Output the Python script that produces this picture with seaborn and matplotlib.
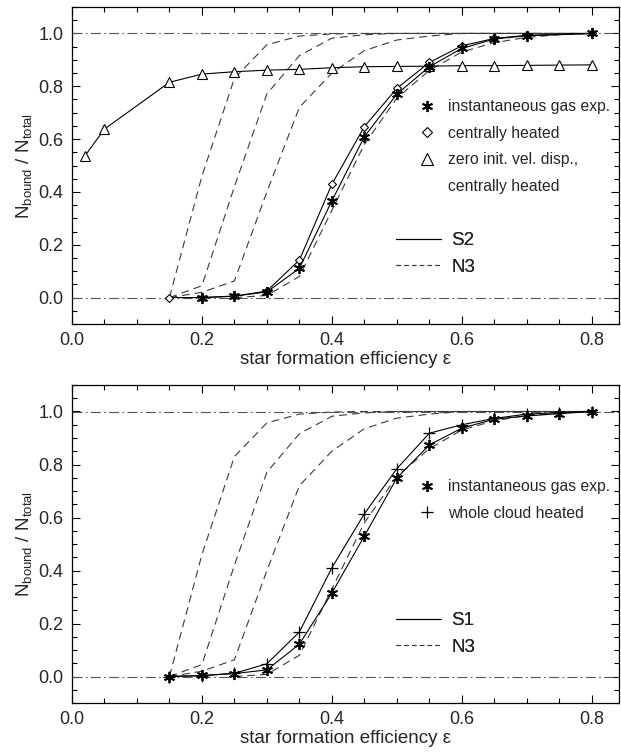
import numpy as np
import pandas as pd
import matplotlib
matplotlib.use("Agg")
import matplotlib.pyplot as plt
import seaborn as sns
from matplotlib.lines import Line2D
from matplotlib.ticker import MultipleLocator

# ---------------- data ----------------
# N3 reference curves (dashed), identical in both panels
n3_a_x = [0.15, 0.2, 0.25, 0.3, 0.35, 0.4, 0.45, 0.5, 0.6, 0.7, 0.8]
n3_a_y = [0.0, 0.46, 0.83, 0.957, 0.99, 0.998, 1.0, 1.0, 1.0, 1.0, 1.0]
n3_b_x = [0.15, 0.2, 0.25, 0.3, 0.35, 0.4, 0.45, 0.5, 0.6, 0.7, 0.8]
n3_b_y = [0.0, 0.045, 0.42, 0.771, 0.916, 0.982, 0.995, 1.0, 1.0, 1.0, 1.0]
n3_c_x = [0.15, 0.2, 0.25, 0.3, 0.35, 0.4, 0.45, 0.5, 0.55, 0.6, 0.7, 0.8]
n3_c_y = [0.0, 0.02, 0.063, 0.40, 0.72, 0.85, 0.935, 0.975, 0.99, 1.0, 1.0, 1.0]
n3_d_x = [0.25, 0.3, 0.35, 0.4, 0.45, 0.5, 0.55, 0.6, 0.65, 0.7, 0.75, 0.8]
n3_d_y = [0.0, 0.008, 0.08, 0.33, 0.58, 0.755, 0.86, 0.93, 0.965, 0.985, 0.995, 1.0]

# Top panel: S2
s2_inst_x = [0.2, 0.25, 0.3, 0.35, 0.4, 0.45, 0.5, 0.55, 0.6, 0.65, 0.7, 0.8]
s2_inst_y = [0.0, 0.006, 0.021, 0.111, 0.366, 0.609, 0.770, 0.874, 0.943, 0.979, 0.991, 1.0]
s2_cent_x = [0.15, 0.2, 0.25, 0.3, 0.35, 0.4, 0.45, 0.5, 0.55, 0.6, 0.65, 0.7, 0.8]
s2_cent_y = [0.0, 0.0, 0.005, 0.025, 0.142, 0.429, 0.647, 0.792, 0.890, 0.953, 0.981, 0.993, 1.0]
s2_zero_x = [0.02, 0.05, 0.15, 0.2, 0.25, 0.3, 0.35, 0.4, 0.45, 0.5, 0.55, 0.6, 0.65, 0.7, 0.75, 0.8]
s2_zero_y = [0.537, 0.638, 0.815, 0.846, 0.855, 0.861, 0.864, 0.870, 0.874, 0.875, 0.876,
             0.878, 0.878, 0.879, 0.880, 0.881]

# Bottom panel: S1
s1_inst_x = [0.15, 0.2, 0.25, 0.3, 0.35, 0.4, 0.45, 0.5, 0.55, 0.6, 0.65, 0.7, 0.75, 0.8]
s1_inst_y = [0.0, 0.004, 0.011, 0.025, 0.122, 0.315, 0.530, 0.749, 0.874, 0.937, 0.971,
             0.983, 0.992, 1.0]
s1_whole_x = [0.15, 0.2, 0.25, 0.3, 0.35, 0.4, 0.45, 0.5, 0.55, 0.6, 0.65, 0.7, 0.75, 0.8]
s1_whole_y = [0.0, 0.003, 0.012, 0.048, 0.168, 0.410, 0.614, 0.784, 0.918, 0.950, 0.974,
              0.990, 0.996, 1.0]

ref_levels = [0.0, 1.0]
xlabel = "star formation efficiency \u03b5"
ylabel = r"N$_{\rm bound}$ / N$_{\rm total}$"

# ---------------- style ----------------
sns.set_theme(style="ticks")
plt.rcParams["font.family"] = ["Liberation Sans", "DejaVu Sans"]
plt.rcParams["mathtext.fontset"] = "custom"
plt.rcParams["mathtext.rm"] = "Liberation Sans"
plt.rcParams["mathtext.it"] = "Liberation Sans:italic"
plt.rcParams["axes.linewidth"] = 0.8

fig = plt.figure(figsize=(6.21, 7.56), dpi=100)
W, H = 621, 756


def add_ax(left, top, right, bottom):
    return fig.add_axes([left / W, 1 - bottom / H, (right - left) / W, (bottom - top) / H])


TOP_BOX = (72, 7, 619, 324)
BOT_BOX = (72, 385, 619, 703)
ax_top = add_ax(*TOP_BOX)
ax_bot = add_ax(*BOT_BOX)

DASH_COL = "#3a3a3a"
REF_COL = "#555555"


def anchor(box, px, py):
    l, t, r, b = box
    return ((px - l) / (r - l), 1 - (py - t) / (b - t))


def n3_curves(ax):
    for xs, ys in [(n3_a_x, n3_a_y), (n3_b_x, n3_b_y), (n3_c_x, n3_c_y), (n3_d_x, n3_d_y)]:
        sns.lineplot(x=xs, y=ys, ax=ax, color=DASH_COL, lw=0.8, dashes=False,
                     linestyle=(0, (7, 4.5)), sort=False)


def frame(ax):
    for lv in ref_levels:
        ax.axhline(lv, color=REF_COL, lw=0.8, linestyle=(0, (9, 3, 1.5, 3)), zorder=1)
    ax.set_xlim(0, 0.842)
    ax.set_ylim(-0.1, 1.1)
    ax.xaxis.set_major_locator(MultipleLocator(0.2))
    ax.xaxis.set_minor_locator(MultipleLocator(0.05))
    ax.yaxis.set_major_locator(MultipleLocator(0.2))
    ax.yaxis.set_minor_locator(MultipleLocator(0.05))
    ax.tick_params(which="both", direction="in", top=True, right=True, width=0.8, color="black")
    ax.tick_params(which="major", length=6, labelsize=13, pad=6)
    ax.tick_params(which="minor", length=3.3)
    ax.xaxis.set_major_formatter(matplotlib.ticker.FormatStrFormatter("%.1f"))
    ax.yaxis.set_major_formatter(matplotlib.ticker.FormatStrFormatter("%.1f"))
    ax.set_xlabel(xlabel, fontsize=13.5, labelpad=1)
    ax.set_ylabel(ylabel, fontsize=13.5, labelpad=3)
    for s in ax.spines.values():
        s.set_color("black")
        s.set_linewidth(0.9)


def marker_legend(ax, entries, anc):
    handles = []
    labels = []
    for mk, ms, mew, lab in entries:
        if mk is None:
            handles.append(Line2D([], [], linestyle="none"))
        else:
            handles.append(Line2D([], [], linestyle="none", marker=mk, markersize=ms,
                                  markerfacecolor="none", markeredgecolor="black",
                                  markeredgewidth=mew, color="black"))
        labels.append(lab)
    leg = ax.legend(handles, labels, loc="upper left", bbox_to_anchor=anc,
                    frameon=False, fontsize=11.3, handlelength=1.0, handletextpad=0.85,
                    labelspacing=0.74, borderaxespad=0, borderpad=0)
    ax.add_artist(leg)


def line_legend(ax, name, anc):
    handles = [Line2D([], [], color="black", lw=0.8),
               Line2D([], [], color=DASH_COL, lw=0.8, linestyle=(0, (4, 3)))]
    leg = ax.legend(handles, [name, "N3"], loc="upper left", bbox_to_anchor=anc,
                    frameon=False, fontsize=13.5, handlelength=2.4, handletextpad=0.55,
                    labelspacing=0.5, borderaxespad=0, borderpad=0)
    ax.add_artist(leg)


STAR = (6, 2, 0)

# ---------------- top panel ----------------
ax = ax_top
frame(ax)
n3_curves(ax)
sns.lineplot(x=s2_zero_x, y=s2_zero_y, ax=ax, color="black", lw=0.8, marker="^",
             markersize=7, markerfacecolor="white", markeredgecolor="black",
             markeredgewidth=0.8, sort=False)
sns.lineplot(x=s2_cent_x, y=s2_cent_y, ax=ax, color="black", lw=0.8, marker="D",
             markersize=4, markerfacecolor="white", markeredgecolor="black",
             markeredgewidth=0.8, sort=False)
sns.lineplot(x=s2_inst_x, y=s2_inst_y, ax=ax, color="black", lw=0.8, marker=STAR,
             markersize=8, markeredgecolor="black", markeredgewidth=1.3, sort=False)
marker_legend(ax, [(STAR, 8, 1.3, "instantaneous gas exp."),
                   ("D", 5, 0.8, "centrally heated"),
                   ("^", 8, 0.8, "zero init. vel. disp.,"),
                   (None, 0, 0, "centrally heated")],
              anchor(TOP_BOX, 419, 99))
line_legend(ax, "S2", anchor(TOP_BOX, 396, 232))

# ---------------- bottom panel ----------------
ax = ax_bot
frame(ax)
n3_curves(ax)
sns.lineplot(x=s1_whole_x, y=s1_whole_y, ax=ax, color="black", lw=0.8, marker="+",
             markersize=8, markeredgecolor="black", markeredgewidth=0.9, sort=False)
sns.lineplot(x=s1_inst_x, y=s1_inst_y, ax=ax, color="black", lw=0.8, marker=STAR,
             markersize=8, markeredgecolor="black", markeredgewidth=1.3, sort=False)
marker_legend(ax, [(STAR, 8, 1.3, "instantaneous gas exp."),
                   ("+", 8, 0.9, "whole cloud heated")],
              anchor(BOT_BOX, 419, 479))
line_legend(ax, "S1", anchor(BOT_BOX, 396, 612))

fig.savefig("out.png", dpi=100)
